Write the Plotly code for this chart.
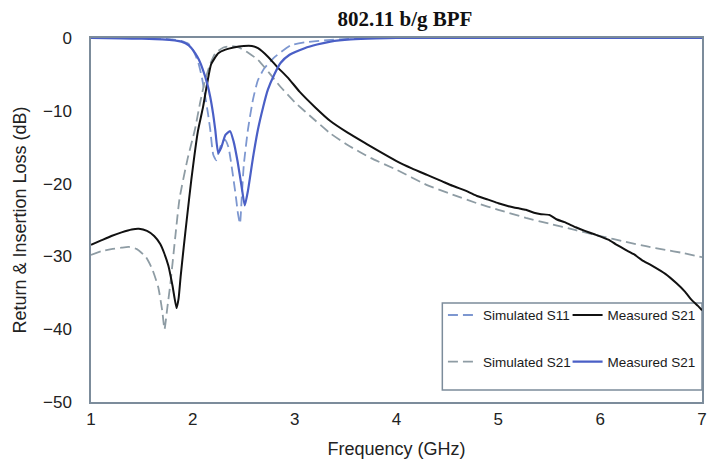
import plotly.graph_objects as go

# ---------------- data ----------------
meas_s21_x = [1.0, 1.1, 1.2, 1.3, 1.4, 1.47, 1.55, 1.62, 1.68, 1.72, 1.76, 1.8, 1.84, 1.86, 1.88,
              1.91, 1.94, 1.985, 2.05, 2.1, 2.14, 2.18, 2.25, 2.32, 2.4, 2.5, 2.58, 2.64, 2.74,
              2.83, 2.93, 3.05, 3.2, 3.35, 3.52, 3.7, 3.81, 4.0, 4.15, 4.3, 4.45, 4.55, 4.7,
              4.79, 4.9, 5.0, 5.1, 5.2, 5.27, 5.35, 5.42, 5.5, 5.57, 5.65, 5.76, 5.85, 5.95,
              6.08, 6.15, 6.25, 6.33, 6.41, 6.5, 6.64, 6.75, 6.83, 6.9, 6.96, 7.0]
meas_s21_y = [-28.4, -27.8, -27.2, -26.7, -26.3, -26.2, -26.5, -27.2, -28.3, -29.6, -31.3, -34.0,
              -37.1, -35.8, -32.8, -28.8, -25.0, -19.5, -12.8, -9.5, -6.3, -3.6, -2.1, -1.6,
              -1.3, -1.1, -1.1, -1.4, -2.6, -4.0, -5.4, -7.4, -9.5, -11.4, -13.0, -14.5, -15.4,
              -16.9, -17.9, -18.8, -19.7, -20.3, -21.1, -21.7, -22.2, -22.7, -23.1, -23.4,
              -23.6, -24.0, -24.2, -24.3, -24.9, -25.3, -26.0, -26.5, -27.0, -27.7, -28.3,
              -29.1, -29.7, -30.5, -31.2, -32.4, -33.7, -34.8, -36.0, -36.8, -37.4]

sim_s21_x = [1.0, 1.1, 1.2, 1.3, 1.37, 1.45, 1.54, 1.6, 1.66, 1.7, 1.722, 1.75, 1.78, 1.83, 1.87,
             1.95, 2.02, 2.07, 2.12, 2.17, 2.22, 2.3, 2.38, 2.45, 2.54, 2.64, 2.75, 2.86, 3.0,
             3.2, 3.35, 3.52, 3.75, 4.0, 4.3, 4.55, 4.79, 5.0, 5.27, 5.5, 5.76, 6.0, 6.25,
             6.45, 6.64, 6.8, 7.0]
sim_s21_y = [-29.8, -29.3, -29.0, -28.8, -28.7, -29.0, -30.1, -31.7, -34.2, -37.5, -40.0, -37.0,
             -33.7, -27.0, -22.0, -16.5, -12.6, -9.0, -5.8, -3.6, -2.1, -1.3, -1.1, -1.3, -2.0,
             -3.0, -4.8, -6.7, -8.8, -11.3, -13.1, -14.7, -16.5, -18.1, -20.2, -21.5, -22.7,
             -23.6, -24.7, -25.5, -26.4, -27.2, -28.0, -28.6, -29.1, -29.5, -30.1]

sim_s11_x = [1.0, 1.5, 1.7, 1.8, 1.88, 1.956, 2.0, 2.054, 2.09, 2.122, 2.15, 2.171, 2.2, 2.229,
             2.26, 2.29, 2.317, 2.35, 2.39, 2.42, 2.444, 2.463, 2.48, 2.5, 2.541, 2.59, 2.639,
             2.7, 2.805, 2.961, 3.1, 3.32, 3.55, 3.8, 4.0, 7.0]
sim_s11_y = [0, 0, -0.1, -0.2, -0.4, -0.8, -1.6, -3.4, -5.5, -8.1, -10.5, -12.6, -16.0, -16.8,
             -15.4, -14.2, -14.0, -15.0, -18.5, -21.5, -24.2, -25.5, -22.0, -17.5, -12.6, -8.5,
             -5.8, -4.2, -2.6, -1.0, -0.6, -0.3, -0.1, 0, 0, 0]

meas_s11_x = [1.0, 1.3, 1.5, 1.7, 1.888, 1.96, 2.024, 2.06, 2.1, 2.14, 2.171, 2.2, 2.22, 2.249,
              2.28, 2.32, 2.366, 2.4, 2.44, 2.48, 2.51, 2.541, 2.59, 2.639, 2.69, 2.737, 2.8,
              2.863, 2.95, 3.098, 3.22, 3.351, 3.55, 3.8, 4.0, 7.0]
meas_s11_y = [0, -0.05, -0.1, -0.2, -0.5, -1.0, -2.1, -3.0, -4.4, -6.2, -8.1, -10.5, -12.6, -15.8,
              -15.0, -13.3, -12.8, -14.2, -17.0, -20.5, -23.0, -21.0, -16.5, -12.6, -9.5, -7.1,
              -5.0, -3.4, -2.3, -1.4, -0.9, -0.5, -0.2, -0.05, 0, 0]

x_ticks = [1, 2, 3, 4, 5, 6, 7]
y_ticks = [-50, -40, -30, -20, -10, 0]

title_text = "802.11 b/g BPF"
x_title = "Frequency (GHz)"
y_title = "Return & Insertion Loss (dB)"

# ---------------- styling ----------------
FRAME = "#7c8c9b"
C_SIM_S11 = "#7d97d0"
C_SIM_S21 = "#8e9ca4"
C_MEAS_S21 = "#111111"
C_MEAS_S11 = "#4a5fc6"
DASH = "10px,5px"
SANS = "Liberation Sans, Arial, sans-serif"

fig = go.Figure()
fig.add_trace(go.Scatter(x=sim_s11_x, y=sim_s11_y, mode="lines", name="Simulated S11",
                         line=dict(color=C_SIM_S11, width=1.8, dash=DASH, shape="spline", smoothing=0.5),
                         legend="legend", legendgroup="a"))
fig.add_trace(go.Scatter(x=sim_s21_x, y=sim_s21_y, mode="lines", name="Simulated S21",
                         line=dict(color=C_SIM_S21, width=1.8, dash=DASH, shape="spline", smoothing=0.5),
                         legend="legend", legendgroup="b"))
fig.add_trace(go.Scatter(x=meas_s21_x, y=meas_s21_y, mode="lines", name="Measured S21",
                         line=dict(color=C_MEAS_S21, width=2, shape="spline", smoothing=0.5),
                         legend="legend2", legendgroup="c"))
fig.add_trace(go.Scatter(x=meas_s11_x, y=meas_s11_y, mode="lines", name="Measured S21",
                         line=dict(color=C_MEAS_S11, width=2.2, shape="spline", smoothing=0.5),
                         legend="legend2", legendgroup="d"))

legend_font = dict(family=SANS, size=13.5, color="#1a1a1a")

fig.update_layout(
    width=711, height=465,
    margin=dict(l=91, r=4, t=38, b=63),
    paper_bgcolor="white", plot_bgcolor="white",
    title=dict(text="<b>" + title_text + "</b>", x=405 / 711, xanchor="center",
               y=1 - 19 / 465, yanchor="middle",
               font=dict(family="Liberation Serif, Times New Roman, serif", size=21, color="#111111")),
    xaxis=dict(range=[1, 7], tickvals=x_ticks, showgrid=False, zeroline=False,
               showline=True, linecolor=FRAME, linewidth=1.5, mirror=True, ticks="",
               ticklabelstandoff=1,
               tickfont=dict(family=SANS, size=17, color="#222222"),
               title=dict(text=x_title, standoff=14,
                          font=dict(family=SANS, size=18, color="#222222"))),
    yaxis=dict(range=[-50, 0], tickvals=y_ticks, showgrid=False, zeroline=False,
               showline=True, linecolor=FRAME, linewidth=1.5, mirror=True, ticks="",
               ticklabelstandoff=14,
               tickfont=dict(family=SANS, size=17, color="#222222"),
               title=dict(text=y_title, standoff=12,
                          font=dict(family=SANS, size=18, color="#222222"))),
    showlegend=True,
    legend=dict(x=0.576, y=0.281, xanchor="left", yanchor="top", bgcolor="rgba(0,0,0,0)",
                borderwidth=0, font=legend_font, tracegroupgap=26, itemwidth=30),
    legend2=dict(x=0.780, y=0.281, xanchor="left", yanchor="top", bgcolor="rgba(0,0,0,0)",
                 borderwidth=0, font=legend_font, tracegroupgap=26, itemwidth=30),
    shapes=[dict(type="rect", xref="paper", yref="paper", x0=0.575, x1=1.0, y0=0.033, y1=0.272,
                 line=dict(color=FRAME, width=1.5), fillcolor="white", layer="below")],
)

fig.write_html("out.html")
